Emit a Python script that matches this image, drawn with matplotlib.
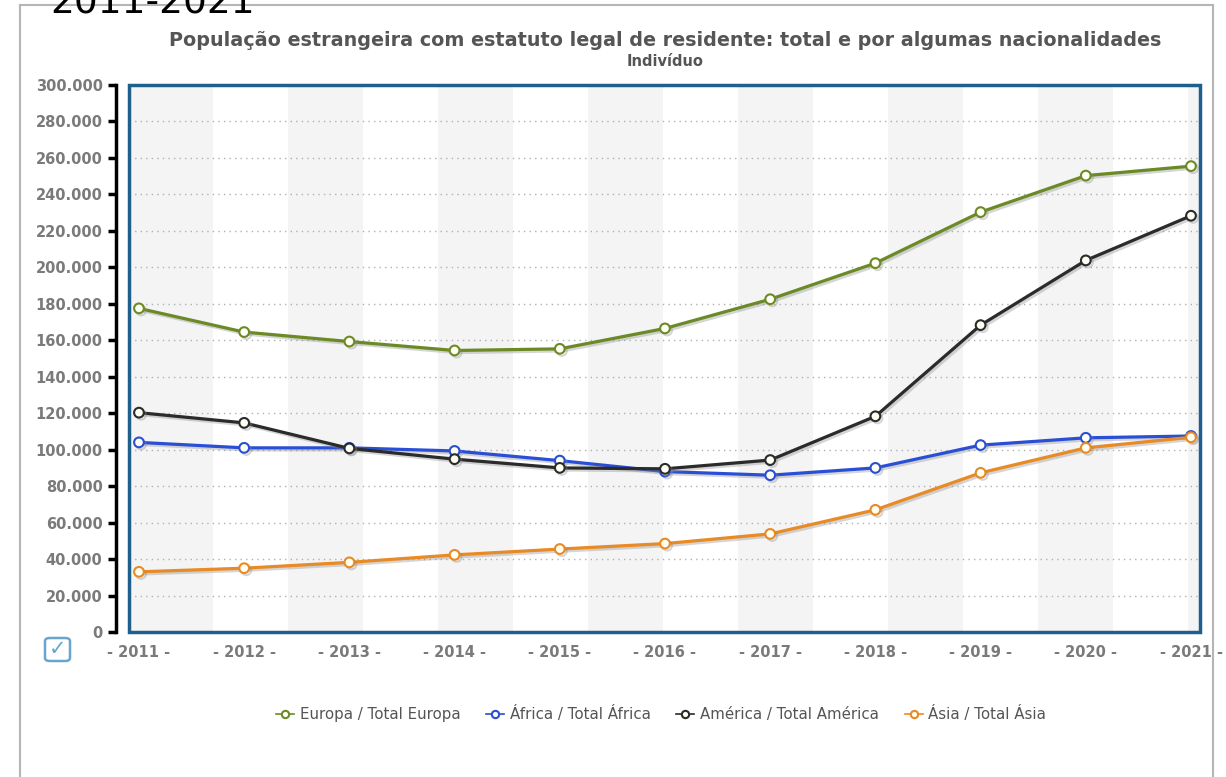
import matplotlib.pyplot as plt
import matplotlib.patheffects as pe
from matplotlib.patches import Rectangle, FancyBboxPatch
from matplotlib.ticker import FuncFormatter

# # Data (individuals)
years = [2011, 2012, 2013, 2014, 2015, 2016, 2017, 2018, 2019, 2020, 2021]
europa = [177500, 164500, 159300, 154400, 155300, 166500, 182500, 202300, 230300, 250300, 255500]
africa = [104000, 101000, 101000, 99300, 94000, 88000, 86000, 90000, 102500, 106500, 107500]
america = [120300, 114700, 100700, 94800, 90000, 89500, 94300, 118300, 168300, 203800, 228300]
asia = [33000, 35000, 38200, 42300, 45500, 48500, 53800, 67000, 87300, 101000, 106800]

series = [
    ("Europa / Total Europa", europa, "#6b8a26"),
    ("África / Total África", africa, "#2a4fd6"),
    ("América / Total América", america, "#2b2b2b"),
    ("Ásia / Total Ásia", asia, "#e88a25"),
]

fig = plt.figure(figsize=(12.26, 7.77), dpi=100)
ax = fig.add_axes([0.1052, 0.1866, 0.8736, 0.704])

# # Alternating vertical background bands
step = 150 / 105.2
x0 = 2011 - 0.01
ax.axvspan(2010, x0, color="#f4f4f4", lw=0, zorder=0)
k = 0
while x0 + k * step < 2021.1:
    ax.axvspan(x0 + k * step, x0 + k * step + step / 2, color="#f4f4f4", lw=0, zorder=0)
    k += 1

# # Horizontal dotted grid
for v in range(20000, 300000, 20000):
    ax.axhline(v, color="#b0b0b0", lw=1, ls=(0, (1, 3)), zorder=1)

shadow = [pe.SimpleLineShadow(offset=(1.5, -1.5), shadow_color="#888888", alpha=0.35), pe.Normal()]
for label, vals, col in series:
    ax.plot(years, vals, color=col, lw=2.3, marker="o", ms=7, mfc="#fffff2", mec=col,
            mew=1.5, label=label, zorder=3, path_effects=shadow)

ax.set_xlim(2011 - 10 / 105.2, 2021 + 9 / 105.2)
ax.set_ylim(0, 300000)
ax.set_yticks(range(0, 300001, 20000))
ax.yaxis.set_major_formatter(FuncFormatter(lambda v, p: f"{int(v):,}".replace(",", ".")))
ax.set_xticks(years)
ax.set_xticklabels([f"- {y} -" for y in years])

for s in ["top", "right", "bottom"]:
    ax.spines[s].set_visible(False)
ax.spines["left"].set_position(("outward", 9))
ax.spines["left"].set_linewidth(2.5)
ax.spines["left"].set_color("black")
ax.tick_params(axis="y", length=6, width=2.5, color="black", labelsize=10.5, labelcolor="#7a7a7a", pad=4)
ax.tick_params(axis="x", length=0, labelsize=10.5, labelcolor="#7a7a7a", pad=9)
for t in ax.get_yticklabels() + ax.get_xticklabels():
    t.set_fontweight("bold")

# # Blue frame round the plot area
ax.add_patch(Rectangle((0, 0), 1, 1, transform=ax.transAxes, fill=False, ec="#1f5f8b",
                       lw=2.5, clip_on=False, zorder=5))

# # Outer light frame
fig.add_artist(plt.Line2D([20 / 1226, 20 / 1226], [0, 1 - 5 / 777], color="#b5b5b5", lw=1.5))
fig.add_artist(plt.Line2D([20 / 1226, 1213 / 1226], [1 - 5 / 777, 1 - 5 / 777], color="#b5b5b5", lw=1.5))
fig.add_artist(plt.Line2D([1213 / 1226, 1213 / 1226], [0, 1 - 5 / 777], color="#b5b5b5", lw=1.5))

# # Titles (the year range is cut by the top edge, as in the source)
fig.text(50 / 1226, 1 - 14 / 777, "2011-2021", fontsize=27, color="black", va="baseline", ha="left")
fig.text(665 / 1226, 1 - 40 / 777, "População estrangeira com estatuto legal de residente: total e por algumas nacionalidades",
         fontsize=13.8, fontweight="bold", color="#555555", ha="center", va="center")
fig.text(665 / 1226, 1 - 61 / 777, "Indivíduo", fontsize=10.5, fontweight="bold", color="#555555",
         ha="center", va="center")

# # Checkbox icon
fig.add_artist(FancyBboxPatch((45 / 1226, 1 - 661 / 777), 25 / 1226, 23 / 777,
                              boxstyle="round,pad=0,rounding_size=0.004", fc="white", ec="#6aa6cc", lw=1.8))
fig.text(57.5 / 1226, 1 - 649 / 777, "✓", fontsize=15, color="#6aa6cc", ha="center", va="center")

leg = fig.legend(loc="center", bbox_to_anchor=(661 / 1226, 1 - 714 / 777), ncol=4, frameon=False,
                 fontsize=10.8, handlelength=1.2, handletextpad=0.4, columnspacing=1.7, markerscale=0.75)
for t in leg.get_texts():
    t.set_color("#555555")
for h in leg.legend_handles:
    h.set_linewidth(1.2)
    h.set_path_effects([])

fig.savefig("out.png", dpi=100)
